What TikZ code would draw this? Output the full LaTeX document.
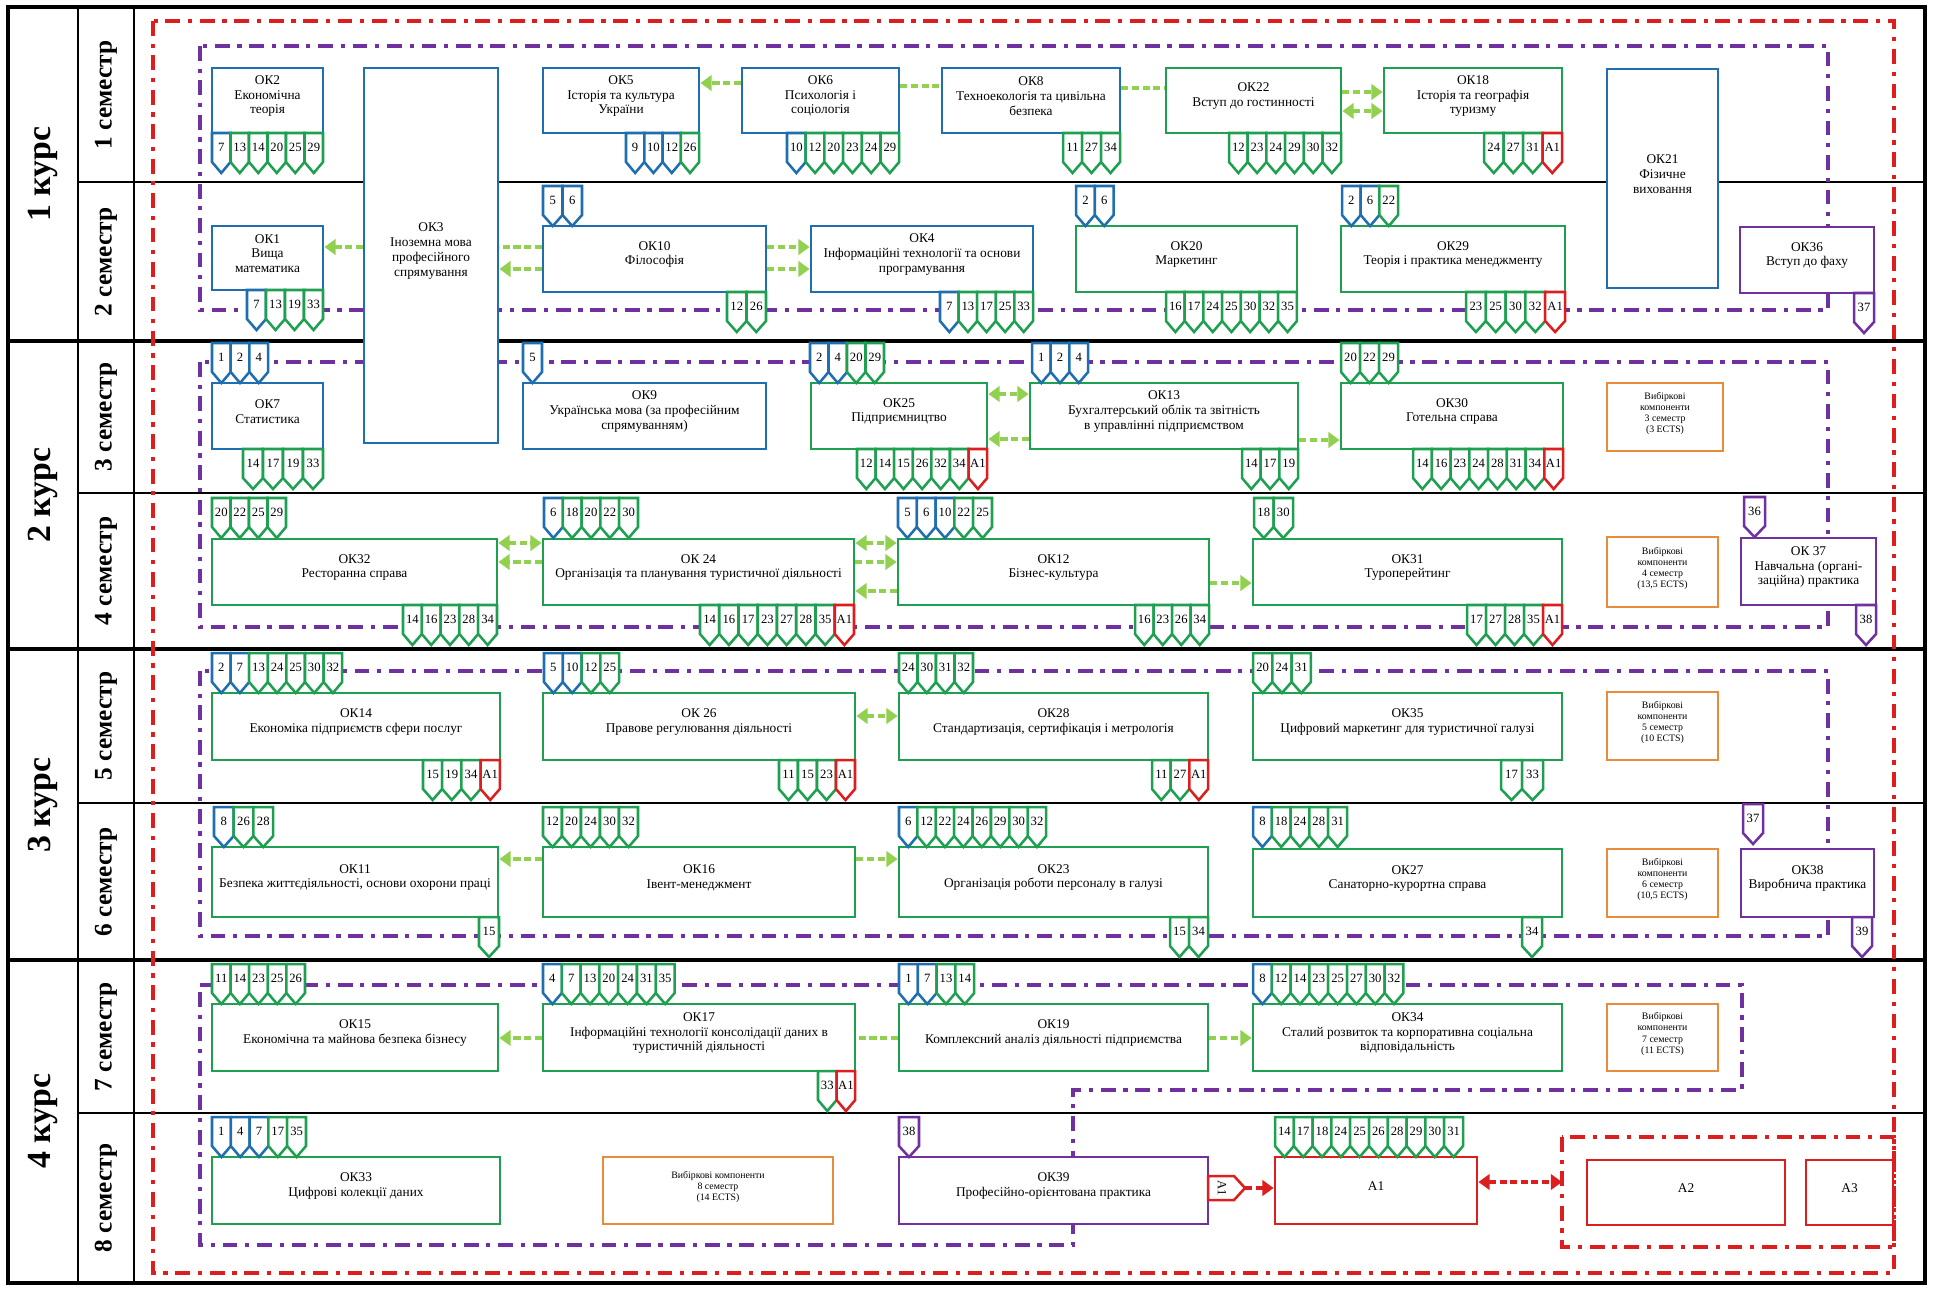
\documentclass[tikz,border=0pt]{standalone}
\usepackage{fontspec}
\setmainfont{Liberation Serif}
\usetikzlibrary{arrows.meta,fit}

\definecolor{cb}{RGB}{31,110,175}
\definecolor{cg}{RGB}{30,160,80}
\definecolor{cp}{RGB}{112,48,160}
\definecolor{cr}{RGB}{220,30,30}
\definecolor{corange}{RGB}{232,140,60}
\definecolor{linkgreen}{RGB}{146,208,80}

\tikzset{
  okbox/.style={draw=#1, line width=2pt, fill=white, inner sep=0pt, align=center,
    font=\fontsize{9.5}{10.5}\selectfont},
  selbox/.style={okbox=corange, font=\fontsize{7}{8}\selectfont},
  tagline/.style={line width=1.8pt, fill=white},
  tagtext/.style={inner sep=0pt, font=\fontsize{9}{10}\selectfont},
  link/.style={draw=linkgreen, line width=2.4pt, dash pattern=on 5pt off 2.5pt},
  linkto/.style={link, -{Triangle[length=8pt,width=11pt]}},
  linkboth/.style={link, {Triangle[length=8pt,width=11pt]}-{Triangle[length=8pt,width=11pt]}},
  semline/.style={line width=1.4pt},
  yearline/.style={line width=3pt},
  redzone/.style={draw=cr, line width=3.5pt, dash pattern=on 10.5pt off 5.5pt on 3pt off 5.5pt},
  yearzone/.style={draw=cp, line width=3.5pt, dash pattern=on 10.5pt off 5.5pt on 3pt off 5.5pt},
  semlabel/.style={rotate=90, font=\bfseries\fontsize{18}{20}\selectfont},
  yearlabel/.style={rotate=90, font=\bfseries\fontsize{24}{26}\selectfont},
}

% tags: x0, top y, width of one tag, list colour/label
\newcommand\tags[4]{%
  \foreach \c/\t [count=\i from 0] in {#4}{%
    \draw[tagline, draw=\c] ({#1+\i*#3},#2) -- ++(#3,0) -- ++(0,29) -- ++({-#3/2},11)
      -- ++({-#3/2},-11) -- cycle;
    \node[tagtext] (tag-#1-#2-\i) at ({#1+(\i+0.5)*#3},{#2+14.5}) {\t};
  }}

\begin{document}
\begin{tikzpicture}[x=0.25mm,y=-0.25mm]
\useasboundingbox (0,0) rectangle (1933,1288);

% grid
\draw[yearline, line width=3.5pt] (8,7) rectangle (1925,1283);
\draw[semline] (78,7) -- (78,1283) (134,7) -- (134,1283);
\foreach \y in {182,493,803,1113} \draw[semline] (78,\y) -- (1925,\y);
\foreach \y in {341,649,960} \draw[yearline] (8,\y) -- (1925,\y);

\path (43,174) node[yearlabel] (year1) {1 курс}
      (43,495) node[yearlabel] (year2) {2 курс}
      (43,805) node[yearlabel] (year3) {3 курс}
      (43,1121) node[yearlabel] (year4) {4 курс};
\path (106,95) node[semlabel] (sem1) {1 семестр}
      (106,262) node[semlabel] (sem2) {2 семестр}
      (106,417) node[semlabel] (sem3) {3 семестр}
      (106,571) node[semlabel] (sem4) {4 семестр}
      (106,726) node[semlabel] (sem5) {5 семестр}
      (106,882) node[semlabel] (sem6) {6 семестр}
      (106,1037) node[semlabel] (sem7) {7 семестр}
      (106,1198) node[semlabel] (sem8) {8 семестр};

% zones
\draw[redzone] (153,21) rectangle (1894,1273);
\draw[redzone] (1562,1137) rectangle (1894,1247);
\draw[yearzone] (200,46) rectangle (1828,310);
\draw[yearzone] (200,362) rectangle (1828,627);
\draw[yearzone] (200,671) rectangle (1828,936);
\draw[yearzone] (200,985) -- (1742,985) -- (1742,1090) -- (1073,1090) -- (1073,1245) -- (200,1245) -- cycle;

% semester 1
\node[okbox=cb, fit={(212,68) (323,133)}] (ok2) {ОК2\\Економічна\\теорія};
\node[okbox=cb, fit={(364,68) (498,443)}] (ok3) {ОК3\\Іноземна мова\\професійного\\спрямування};
\node[okbox=cb, fit={(543,68) (699,133)}] (ok5) {ОК5\\Історія та культура\\України};
\node[okbox=cb, fit={(742,68) (899,133)}] (ok6) {ОК6\\Психологія і\\соціологія};
\node[okbox=cb, fit={(942,68) (1120,133)}] (ok8) {ОК8\\Техноекологія та цивільна\\безпека};
\node[okbox=cg, fit={(1166,68) (1341,133)}] (ok22) {ОК22\\Вступ до гостинності};
\node[okbox=cg, fit={(1384,68) (1562,133)}] (ok18) {ОК18\\Історія та географія\\туризму};
\node[okbox=cb, fit={(1607,69) (1718,288)}] (ok21) {ОК21\\Фізичне\\виховання};
\tags{212}{133}{18.5}{cb/7,cg/13,cg/14,cg/20,cg/25,cg/29}
\tags{626}{133}{18.3}{cb/9,cb/10,cb/12,cg/26}
\tags{787}{133}{18.7}{cb/10,cg/12,cg/20,cg/23,cg/24,cg/29}
\tags{1063}{133}{19}{cg/11,cg/27,cg/34}
\tags{1229}{133}{18.7}{cg/12,cg/23,cg/24,cg/29,cg/30,cg/32}
\tags{1484}{133}{19.5}{cg/24,cg/27,cg/31,cr/A1}
\draw[linkto] (ok6.west |- 0,83) -- (ok5.east |- 0,83);
\draw[link] (ok6.east |- 0,86) -- (ok8.west |- 0,86);
\draw[link] (ok8.east |- 0,88) -- (ok22.west |- 0,88);
\draw[linkto] (ok22.east |- 0,92) -- (ok18.west |- 0,92);
\draw[linkboth] (ok22.east |- 0,111) -- (ok18.west |- 0,111);

% semester 2
\node[okbox=cb, fit={(212,226) (323,290)}] (ok1) {ОК1\\Вища\\математика};
\node[okbox=cb, fit={(543,226) (766,292)}] (ok10) {ОК10\\Філософія};
\node[okbox=cb, fit={(811,226) (1033,292)}] (ok4) {ОК4\\Інформаційні технології та основи\\програмування};
\node[okbox=cg, fit={(1076,226) (1297,292)}] (ok20) {ОК20\\Маркетинг};
\node[okbox=cg, fit={(1341,226) (1565,292)}] (ok29) {ОК29\\Теорія і практика менеджменту};
\node[okbox=cp, fit={(1740,227) (1874,293)}] (ok36) {ОК36\\Вступ до фаху};
\tags{247}{290}{19}{cb/7,cg/13,cg/19,cg/33}
\tags{543}{186}{19.5}{cb/5,cb/6}
\tags{727}{292}{19.5}{cg/12,cg/26}
\tags{940}{292}{18.6}{cb/7,cg/13,cg/17,cg/25,cg/33}
\tags{1076}{186}{18.8}{cb/2,cb/6}
\tags{1166}{292}{18.7}{cg/16,cg/17,cg/24,cg/25,cg/30,cg/32,cg/35}
\tags{1342}{186}{18.7}{cb/2,cb/6,cg/22}
\tags{1466}{292}{19.8}{cg/23,cg/25,cg/30,cg/32,cr/A1}
\tags{1854}{293}{20}{cp/37}
\draw[linkto] (ok3.west |- 0,247) -- (ok1.east |- 0,247);
\draw[link] (ok10.west |- 0,247) -- (ok3.east |- 0,247);
\draw[linkto] (ok10.west |- 0,269) -- (ok3.east |- 0,269);
\draw[linkto] (ok10.east |- 0,247) -- (ok4.west |- 0,247);
\draw[linkto] (ok10.east |- 0,269) -- (ok4.west |- 0,269);

% semester 3
\node[okbox=cb, fit={(212,383) (323,449)}] (ok7) {ОК7\\Статистика};
\node[okbox=cb, fit={(523,383) (766,449)}] (ok9) {ОК9\\Українська мова (за професійним\\спрямуванням)};
\node[okbox=cg, fit={(811,383) (987,449)}] (ok25) {ОК25\\Підприємництво};
\node[okbox=cg, fit={(1030,383) (1298,449)}] (ok13) {ОК13\\Бухгалтерський облік та звітність\\в управлінні підприємством};
\node[okbox=cg, fit={(1341,383) (1563,449)}] (ok30) {ОК30\\Готельна справа};
\node[selbox, fit={(1607,383) (1723,451)}] (sel3) {Вибіркові\\компоненти\\3 семестр\\(3 ECTS)};
\tags{212}{343}{18.7}{cb/1,cb/2,cb/4}
\tags{243}{449}{20}{cg/14,cg/17,cg/19,cg/33}
\tags{523}{343}{19}{cb/5}
\tags{810}{343}{18.5}{cb/2,cb/4,cg/20,cg/29}
\tags{857}{449}{18.6}{cg/12,cg/14,cg/15,cg/26,cg/32,cg/34,cr/A1}
\tags{1032}{343}{18.7}{cb/1,cb/2,cb/4}
\tags{1242}{449}{18.7}{cg/14,cg/17,cg/19}
\tags{1341}{343}{19}{cg/20,cg/22,cg/29}
\tags{1413}{449}{18.75}{cg/14,cg/16,cg/23,cg/24,cg/28,cg/31,cg/34,cr/A1}
\draw[linkboth] (ok25.east |- 0,394) -- (ok13.west |- 0,394);
\draw[linkto] (ok13.west |- 0,439) -- (ok25.east |- 0,439);
\draw[linkto] (ok13.east |- 0,440) -- (ok30.west |- 0,440);

% semester 4
\node[okbox=cg, fit={(212,539) (497,605)}] (ok32) {ОК32\\Ресторанна справа};
\node[okbox=cg, fit={(543,539) (854,605)}] (ok24) {ОК 24\\Організація та планування туристичної діяльності};
\node[okbox=cg, fit={(898,539) (1209,605)}] (ok12) {ОК12\\Бізнес-культура};
\node[okbox=cg, fit={(1253,539) (1562,605)}] (ok31) {ОК31\\Туроперейтинг};
\node[selbox, fit={(1607,537) (1718,607)}] (sel4) {Вибіркові\\компоненти\\4 семестр\\(13,5 ECTS)};
\node[okbox=cp, fit={(1741,538) (1876,605)}] (ok37) {ОК 37\\Навчальна (органі-\\заційна) практика};
\tags{212}{498}{18.5}{cg/20,cg/22,cg/25,cg/29}
\tags{403}{605}{18.8}{cg/14,cg/16,cg/23,cg/28,cg/34}
\tags{544}{498}{18.8}{cb/6,cg/18,cg/20,cg/22,cg/30}
\tags{700}{605}{19.25}{cg/14,cg/16,cg/17,cg/23,cg/27,cg/28,cg/35,cr/A1}
\tags{898}{498}{18.8}{cb/5,cb/6,cb/10,cg/22,cg/25}
\tags{1135}{605}{18.5}{cg/16,cg/23,cg/26,cg/34}
\tags{1254}{498}{19.5}{cg/18,cg/30}
\tags{1467}{605}{19}{cg/17,cg/27,cg/28,cg/35,cr/A1}
\tags{1744}{497}{21}{cp/36}
\tags{1856}{605}{20}{cp/38}
\draw[linkboth] (ok32.east |- 0,543) -- (ok24.west |- 0,543);
\draw[linkto] (ok24.west |- 0,562) -- (ok32.east |- 0,562);
\draw[linkboth] (ok24.east |- 0,543) -- (ok12.west |- 0,543);
\draw[linkto] (ok24.east |- 0,562) -- (ok12.west |- 0,562);
\draw[linkto] (ok12.west |- 0,591) -- (ok24.east |- 0,591);
\draw[linkto] (ok12.east |- 0,583) -- (ok31.west |- 0,583);

% semester 5
\node[okbox=cg, fit={(212,693) (500,760)}] (ok14) {ОК14\\Економіка підприємств сфери послуг};
\node[okbox=cg, fit={(543,693) (855,760)}] (ok26) {ОК 26\\Правове регулювання діяльності};
\node[okbox=cg, fit={(899,693) (1208,760)}] (ok28) {ОК28\\Стандартизація, сертифікація і метрологія};
\node[okbox=cg, fit={(1253,693) (1562,760)}] (ok35) {ОК35\\Цифровий маркетинг для туристичної галузі};
\node[selbox, fit={(1607,692) (1718,760)}] (sel5) {Вибіркові\\компоненти\\5 семестр\\(10 ECTS)};
\tags{212}{653}{18.6}{cb/2,cb/7,cg/13,cg/24,cg/25,cg/30,cg/32}
\tags{423}{760}{19.2}{cg/15,cg/19,cg/34,cr/A1}
\tags{544}{653}{18.8}{cb/5,cb/10,cg/12,cg/25}
\tags{779}{760}{19}{cg/11,cg/15,cg/23,cr/A1}
\tags{899}{653}{18.5}{cg/24,cg/30,cg/31,cg/32}
\tags{1152}{760}{18.7}{cg/11,cg/27,cr/A1}
\tags{1253}{653}{19.3}{cg/20,cg/24,cg/31}
\tags{1501}{760}{21}{cg/17,cg/33}
\draw[linkboth] (ok26.east |- 0,716) -- (ok28.west |- 0,716);

% semester 6
\node[okbox=cg, fit={(212,847) (498,917)}] (ok11) {ОК11\\Безпека життєдіяльності, основи охорони праці};
\node[okbox=cg, fit={(543,847) (855,917)}] (ok16) {ОК16\\Івент-менеджмент};
\node[okbox=cg, fit={(899,847) (1208,917)}] (ok23) {ОК23\\Організація роботи персоналу в галузі};
\node[okbox=cg, fit={(1253,849) (1562,917)}] (ok27) {ОК27\\Санаторно-курортна справа};
\node[selbox, fit={(1607,849) (1718,917)}] (sel6) {Вибіркові\\компоненти\\6 семестр\\(10,5 ECTS)};
\node[okbox=cp, fit={(1741,849) (1874,917)}] (ok38) {ОК38\\Виробнича практика};
\tags{214}{807}{19.7}{cb/8,cg/26,cg/28}
\tags{479}{917}{20}{cg/15}
\tags{543}{807}{19}{cg/12,cg/20,cg/24,cg/30,cg/32}
\tags{899}{807}{18.4}{cb/6,cg/12,cg/22,cg/24,cg/26,cg/29,cg/30,cg/32}
\tags{1170}{917}{19}{cg/15,cg/34}
\tags{1253}{807}{18.8}{cb/8,cg/18,cg/24,cg/28,cg/31}
\tags{1522}{917}{20}{cg/34}
\tags{1743}{804}{20}{cp/37}
\tags{1852}{917}{20}{cp/39}
\draw[linkto] (ok16.west |- 0,859) -- (ok11.east |- 0,859);
\draw[linkto] (ok16.east |- 0,859) -- (ok23.west |- 0,859);

% semester 7
\node[okbox=cg, fit={(212,1004) (498,1071)}] (ok15) {ОК15\\Економічна та майнова безпека бізнесу};
\node[okbox=cg, fit={(543,1004) (855,1071)}] (ok17) {ОК17\\Інформаційні технології консолідації даних в\\туристичній діяльності};
\node[okbox=cg, fit={(899,1004) (1208,1071)}] (ok19) {ОК19\\Комплексний аналіз діяльності підприємства};
\node[okbox=cg, fit={(1253,1004) (1562,1071)}] (ok34) {ОК34\\Сталий розвиток та корпоративна соціальна\\відповідальність};
\node[selbox, fit={(1607,1004) (1718,1071)}] (sel7) {Вибіркові\\компоненти\\7 семестр\\(11 ECTS)};
\tags{212}{964}{18.6}{cg/11,cg/14,cg/23,cg/25,cg/26}
\tags{543}{964}{18.8}{cb/4,cg/7,cg/13,cg/20,cg/24,cg/31,cg/35}
\tags{818}{1071}{18.6}{cg/33,cr/A1}
\tags{899}{964}{18.8}{cb/1,cb/7,cg/13,cg/14}
\tags{1253}{964}{18.8}{cb/8,cg/12,cg/14,cg/23,cg/25,cg/27,cg/30,cg/32}
\draw[linkto] (ok17.west |- 0,1038) -- (ok15.east |- 0,1038);
\draw[link] (ok19.west |- 0,1038) -- (ok17.east |- 0,1038);
\draw[linkto] (ok19.east |- 0,1038) -- (ok34.west |- 0,1038);

% semester 8
\node[okbox=cg, fit={(212,1157) (500,1224)}] (ok33) {ОК33\\Цифрові колекції даних};
\node[selbox, fit={(603,1157) (833,1224)}] (sel8) {Вибіркові компоненти\\8 семестр\\(14 ECTS)};
\node[okbox=cp, fit={(899,1157) (1208,1224)}] (ok39) {ОК39\\Професійно-орієнтована практика};
\node[okbox=cr, fit={(1275,1157) (1477,1224)}] (a1) {А1};
\node[okbox=cr, fit={(1587,1160) (1785,1225)}] (a2) {А2};
\node[okbox=cr, fit={(1806,1160) (1893,1225)}] (a3) {А3};
\tags{212}{1117}{18.8}{cb/1,cb/4,cb/7,cg/17,cg/35}
\tags{899}{1117}{20}{cp/38}
\tags{1275}{1117}{18.8}{cg/14,cg/17,cg/18,cg/24,cg/25,cg/26,cg/28,cg/29,cg/30,cg/31}
\draw[tagline, draw=cr] (1208,1176) -- ++(26,0) -- ++(11,12) -- ++(-11,12) -- ++(-26,0) -- cycle;
\node[tagtext, rotate=-90] (tag-a1) at (1222,1188) {A1};
\coordinate (a1tip) at (1245,1188);
\draw[draw=cr, line width=2.4pt, dash pattern=on 5pt off 2.5pt, -{Triangle[length=8pt,width=11pt]}] (a1tip) -- (a1.west |- a1tip);
\draw[draw=cr, line width=2.4pt, dash pattern=on 5pt off 2.5pt, {Triangle[length=8pt,width=11pt]}-{Triangle[length=8pt,width=11pt]}] (a1.east |- 0,1182) -- (1562,1182);
\end{tikzpicture}
\end{document}
